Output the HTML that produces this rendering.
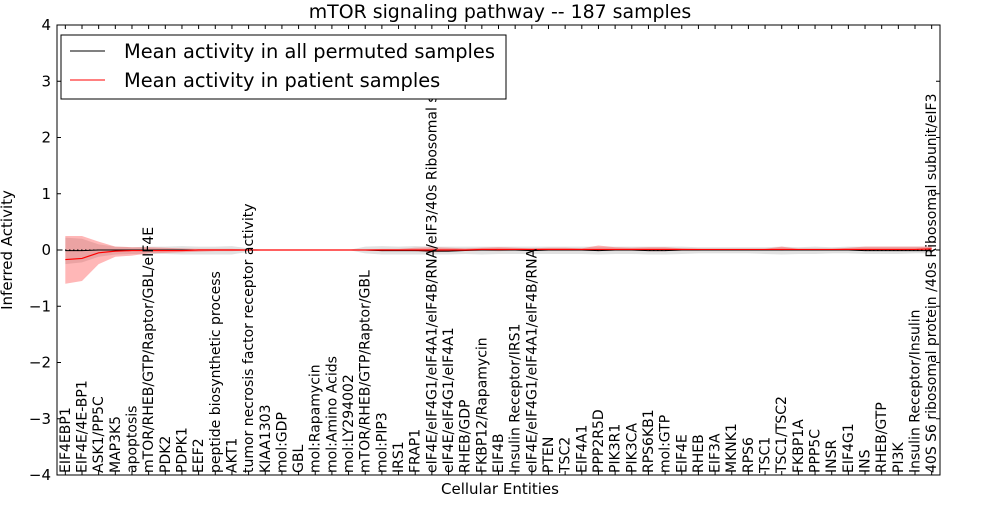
<!DOCTYPE html>
<html><head><meta charset="utf-8"><style>
body{margin:0;background:#fff;}
svg{font-family:"DejaVu Sans","Liberation Sans",sans-serif;}
</style></head><body>
<svg id="chart" width="1000" height="500" xmlns="http://www.w3.org/2000/svg">
<rect width="1000" height="500" fill="#fff"/>
<g id="plot"></g>
</svg>
<script>
const categories=["EIF4EBP1","EIF4E/4E-BP1","ASK1/PP5C","MAP3K5","apoptosis","mTOR/RHEB/GTP/Raptor/GBL/eIF4E","PDK2","PDPK1","EEF2","peptide biosynthetic process","AKT1","tumor necrosis factor receptor activity","KIAA1303","mol:GDP","GBL","mol:Rapamycin","mol:Amino Acids","mol:LY294002","mTOR/RHEB/GTP/Raptor/GBL","mol:PIP3","IRS1","FRAP1","eIF4E/eIF4G1/eIF4A1/eIF4B/RNA/eIF3/40s Ribosomal s","eIF4E/eIF4G1/eIF4A1","RHEB/GDP","FKBP12/Rapamycin","EIF4B","Insulin Receptor/IRS1","eIF4E/eIF4G1/eIF4A1/eIF4B/RNA","PTEN","TSC2","EIF4A1","PPP2R5D","PIK3R1","PIK3CA","RPS6KB1","mol:GTP","EIF4E","RHEB","EIF3A","MKNK1","RPS6","TSC1","TSC1/TSC2","FKBP1A","PPP5C","INSR","EIF4G1","INS","RHEB/GTP","PI3K","Insulin Receptor/Insulin","40S S6 ribosomal protein /40s Ribosomal subunit/eIF3"];
const patientMean=[-0.17,-0.15,-0.05,-0.02,-0.01,-0.01,-0.01,-0.01,0,0,0,0,0,0,0,0,0,0,0,0,0,0,0,0,0,0.01,0.01,0.01,0.01,0.01,0.01,0.01,0.01,0.01,0.01,0.01,0.01,0.01,0.01,0.01,0.01,0.01,0.01,0.01,0.01,0.01,0.01,0.01,0.01,0.01,0.01,0.01,0.02];
const patientHi=[0.25,0.25,0.15,0.06,0.05,0.05,0.04,0.03,0.02,0.02,0.02,0.01,0,0,0,0,0,0,0.01,0.02,0.02,0.04,0.05,0.04,0.03,0.04,0.05,0.04,0.03,0.04,0.04,0.03,0.08,0.05,0.04,0.05,0.05,0.03,0.02,0.01,0.01,0.01,0.02,0.06,0.02,0.02,0.02,0.04,0.06,0.06,0.06,0.06,0.06];
const patientLo=[-0.6,-0.55,-0.25,-0.12,-0.1,-0.06,-0.05,-0.04,-0.03,-0.02,-0.02,-0.01,0,0,0,0,0,0,-0.01,-0.02,-0.01,-0.02,-0.04,-0.03,-0.01,-0.01,-0.02,-0.01,-0.01,-0.01,-0.01,-0.01,-0.02,-0.01,-0.01,-0.02,-0.02,-0.01,-0.01,0,0,0,0,-0.01,0,0,0,0,-0.01,0,-0.01,0,-0.01];
const permMean=[-0.01,-0.01,0,0,0,0,0,0,0,0,0,0,0,0,0,0,0,0,0,-0.01,-0.01,-0.01,-0.02,-0.02,-0.01,0,0,0,-0.01,0,0,0,-0.01,0,0,-0.01,-0.01,0,0,0,0,0,0,0,0,0,0,0,-0.01,-0.01,-0.01,-0.01,-0.01];
const permHi=[0.22,0.2,0.1,0.06,0.05,0.06,0.06,0.07,0.06,0.06,0.07,0.03,0,0,0,0,0,0,0.06,0.07,0.06,0.07,0.06,0.06,0.06,0.06,0.06,0.06,0.06,0.06,0.06,0.06,0.06,0.06,0.06,0.06,0.06,0.06,0.05,0.05,0.05,0.05,0.05,0.06,0.05,0.06,0.05,0.06,0.06,0.06,0.06,0.06,0.06];
const permLo=[-0.25,-0.22,-0.12,-0.08,-0.07,-0.07,-0.07,-0.08,-0.08,-0.08,-0.08,-0.03,0,0,0,0,0,0,-0.06,-0.08,-0.08,-0.08,-0.08,-0.08,-0.07,-0.08,-0.07,-0.07,-0.07,-0.07,-0.07,-0.07,-0.08,-0.07,-0.07,-0.08,-0.08,-0.07,-0.06,-0.06,-0.06,-0.06,-0.07,-0.08,-0.07,-0.07,-0.06,-0.06,-0.07,-0.07,-0.07,-0.06,-0.06];
const yTicks=[-4,-3,-2,-1,0,1,2,3,4];

const NS="http://www.w3.org/2000/svg";
const L=57,R=940,T=25,B=475;
const n=categories.length;
const xs=i=>L+(i+0.5)*(R-L)/n;
const ys=v=>T+(4-v)*(B-T)/8;
const g=document.getElementById('plot');
function mk(tag,attrs,parent){const e=document.createElementNS(NS,tag);for(const k in attrs)e.setAttribute(k,attrs[k]);(parent||g).appendChild(e);return e;}
function band(lo,hi){let d='M'+lo.map((v,i)=>xs(i)+','+ys(v)).join('L');for(let i=n-1;i>=0;i--)d+='L'+xs(i)+','+ys(hi[i]);return d+'Z';}
function line(a){return 'M'+a.map((v,i)=>xs(i)+','+ys(v)).join('L');}

let e=mk('path',{d:band(permLo,permHi),fill:'#c8c8c8','fill-opacity':0.55});


e=mk('path',{d:band(patientLo,patientHi),fill:'#ff3030','fill-opacity':0.35});


e=mk('line',{x1:L,x2:R,y1:ys(0),y2:ys(0),stroke:'#000','stroke-dasharray':'1.5,2.5','stroke-width':1});


e=mk('path',{d:line(permMean),fill:'none',stroke:'#000','stroke-width':1});


e=mk('path',{d:line(patientMean),fill:'none',stroke:'#ff0000','stroke-width':1.2});



e=mk('rect',{x:L,y:T,width:R-L,height:B-T,fill:'none',stroke:'#000','stroke-width':1});



yTicks.forEach(t=>{
  const y=ys(t);
  mk('line',{x1:L,x2:L+4,y1:y,y2:y,stroke:'#000'});
  mk('line',{x1:R-4,x2:R,y1:y,y2:y,stroke:'#000'});
  const tx=mk('text',{x:L-6,y:y+5,'text-anchor':'end','font-size':15});
  tx.textContent=(t<0?'\u2212'+(-t):String(t));
  
  
});
categories.forEach((c,i)=>{
  const x=xs(i);
  mk('line',{x1:x,x2:x,y1:B,y2:B-4,stroke:'#000'});
  mk('line',{x1:x,x2:x,y1:T,y2:T+4,stroke:'#000'});
  const tx=mk('text',{x:0,y:0,'font-size':14,transform:`translate(${x+4.5},${B-2}) rotate(-90)`});
  tx.textContent=c;
  
  
});

let t=mk('text',{x:500,y:18,'text-anchor':'middle','font-size':18.9});
t.textContent='mTOR signaling pathway -- 187 samples';


t=mk('text',{x:500,y:494,'text-anchor':'middle','font-size':15});
t.textContent='Cellular Entities';


t=mk('text',{x:0,y:0,'text-anchor':'middle','font-size':15,transform:'translate(12,250) rotate(-90)'});
t.textContent='Inferred Activity';



const lg=mk('g',{});


mk('rect',{x:61,y:35,width:445,height:64,fill:'#fff',stroke:'#000'},lg);
mk('line',{x1:70,x2:105,y1:51,y2:51,stroke:'#000'},lg);
let lt=mk('text',{x:124,y:58,'font-size':19.4},lg);
lt.textContent='Mean activity in all permuted samples';


mk('line',{x1:70,x2:105,y1:80,y2:80,stroke:'#ff0000'},lg);
lt=mk('text',{x:124,y:87,'font-size':19.4},lg);
lt.textContent='Mean activity in patient samples';


</script>
</body></html>
